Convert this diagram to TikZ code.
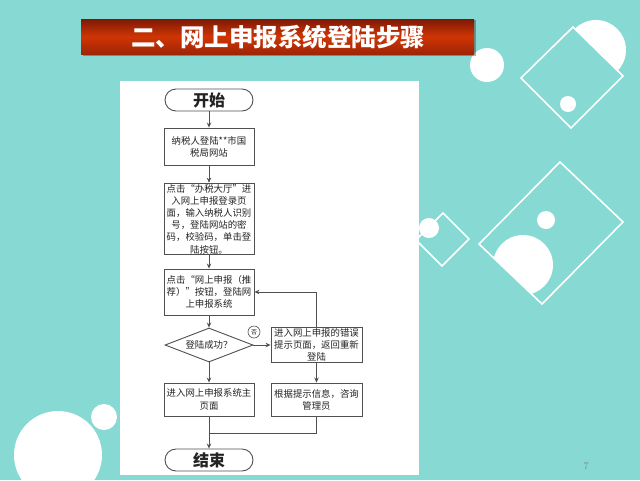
\documentclass[tikz,border=0pt]{standalone}
\usepackage{fontspec}
\newfontfamily\cjk{Noto Sans CJK SC}
\usetikzlibrary{arrows.meta,shapes.geometric}
\definecolor{bgteal}{RGB}{134,218,211}
\definecolor{barmid}{RGB}{208,54,4}
\definecolor{bardark}{RGB}{125,24,6}
\definecolor{barlow}{RGB}{160,36,6}
\definecolor{linegray}{RGB}{80,80,80}
\definecolor{txtgray}{RGB}{35,35,35}
\tikzset{
  flow/.style={draw=linegray, line width=0.9pt, fill=white, text=txtgray, align=center,
    inner sep=1pt, font=\cjk\fontsize{9.4}{12.2}\selectfont},
  box/.style={flow, rectangle, minimum width=90pt},
  term/.style={flow, rectangle, rounded corners=11pt, minimum width=88pt, minimum height=22pt,
    font=\cjk\bfseries\fontsize{16}{18}\selectfont},
  decision/.style={flow, diamond, aspect=2.6, inner sep=0pt, minimum width=88pt, minimum height=34pt},
  conn/.style={draw=linegray, line width=0.9pt},
  arr/.style={conn, -{Stealth[length=5pt,width=4.5pt]}},
  deco/.style={draw=white, line width=1.6pt},
  blob/.style={fill=white}
}
\begin{document}
\begin{tikzpicture}[x=1pt,y=-1pt]
\useasboundingbox (0,0) rectangle (640,480);
\fill[bgteal] (0,0) rectangle (640,480);
% ---- decorations, top right
\fill[blob] (487,65) circle (17);
\fill[blob] (596,50) circle (30);
\fill[bgteal] (573,27) -- (623,76) -- (571,128) -- (521,78) -- cycle;
\draw[deco] (573,27) -- (623,76) -- (571,128) -- (521,78) -- cycle;
\fill[blob] (568,104) circle (8);
% ---- large square
\begin{scope}
  \clip (560,162) -- (623,222) -- (542,304) -- (479,244) -- cycle;
  \fill[blob] (523,265) circle (30);
\end{scope}
\draw[deco] (560,162) -- (623,222) -- (542,304) -- (479,244) -- cycle;
\fill[blob] (546,220) circle (9);
% ---- small square
\draw[deco] (443,213) -- (469,239) -- (442,266) -- (416,240) -- cycle;
\fill[blob] (429,228) circle (10);
% ---- bottom left
\fill[blob] (58,455) circle (44);
\fill[blob] (104,417) circle (13);
% ---- page number
\node[text=gray, font=\fontsize{10}{12}\selectfont] (pg) at (586,466) {7};
% ---- title bar
\fill[black, opacity=0.3] (83,20) rectangle (476,55.5);
\shade[top color=bardark, bottom color=barlow, middle color=barmid] (81,19) rectangle (474,54);
\node[text=white, font=\cjk\bfseries\fontsize{24.5}{27}\selectfont] (title) at (278,37) {二、网上申报系统登陆步骤};
% ---- white panel
\fill[white] (120,81) rectangle (419,475);
% ---- flowchart
\node[term] (start) at (209,100) {开始};
\node[box, minimum height=37pt] (b1) at (209,146.5) {纳税人登陆**市国\\税局网站};
\node[box, minimum height=66pt] (b2) at (209,219) {点击“办税大厅”进\\入网上申报登录页\\面，输入纳税人识别\\号，登陆网站的密\\码，校验码，单击登\\陆按钮。};
\node[box, minimum height=46pt] (b3) at (209,292) {点击“网上申报（推\\荐）”按钮，登陆网\\上申报系统};
\node[decision] (d) at (209,345) {登陆成功？};
\node[box, minimum width=91pt, minimum height=34pt] (b4) at (316.5,345) {进入网上申报的错误\\提示页面，返回重新\\登陆};
\node[box, minimum height=33pt] (b5) at (209,399.5) {进入网上申报系统主\\页面};
\node[box, minimum width=91pt, minimum height=33pt] (b6) at (316.5,399.5) {根据提示信息，咨询\\管理员};
\node[term] (end) at (209,460) {结束};
\node[draw=linegray, line width=0.6pt, circle, inner sep=0pt, minimum size=12pt, fill=white,
  text=txtgray, font=\cjk\fontsize{6}{7}\selectfont] (no) at (254,332) {否};
\coordinate (loop) at (316.5,292);
\coordinate (merge) at (316.5,433);
\coordinate (mergel) at (209,433);
\draw[arr] (start) -- (b1);
\draw[arr] (b1) -- (b2);
\draw[arr] (b2) -- (b3);
\draw[arr] (b3) -- (d);
\draw[arr] (d) -- (b4);
\draw[arr] (d) -- (b5);
\draw[arr] (b4) -- (b6);
\draw[arr] (b4.north) -- (loop) -- (b3.east |- loop);
\draw[conn] (b6.south) -- (merge) -- (mergel);
\draw[arr] (b5) -- (end);
\end{tikzpicture}
\end{document}
